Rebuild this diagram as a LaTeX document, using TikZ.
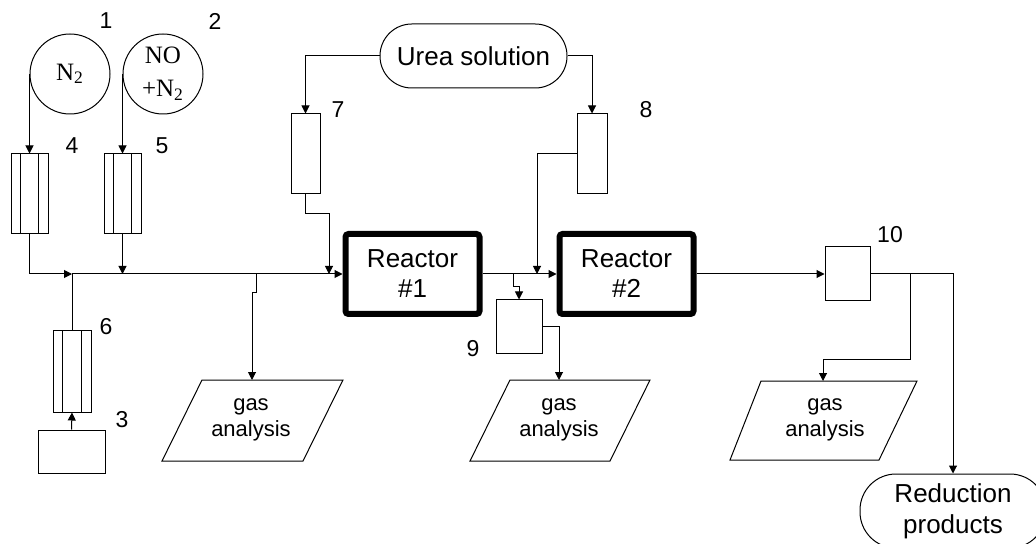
\documentclass[tikz,border=0pt]{standalone}
\usepackage{fontspec}
\setmainfont{Liberation Sans}
\newfontfamily\tnr{Liberation Serif}
\usetikzlibrary{arrows.meta,calc}
\begin{document}
\begin{tikzpicture}[x=0.5pt,y=-0.5pt, line width=0.5pt,
  arr/.style={-{Triangle[length=4pt,width=4pt]}},
  lbl/.style={font=\fontsize{11.5}{13}\selectfont, inner sep=0},
  cyl/.style={draw,circle,minimum size=40pt,inner sep=0,
    font=\tnr\fontsize{12.5}{16.5}\selectfont, align=center},
  flowm/.style={draw,minimum width=18.5pt,minimum height=40pt,inner sep=0,
    path picture={
      \draw ($(path picture bounding box.north west)!0.25!(path picture bounding box.north east)$) --
            ($(path picture bounding box.south west)!0.25!(path picture bounding box.south east)$);
      \draw ($(path picture bounding box.north west)!0.75!(path picture bounding box.north east)$) --
            ($(path picture bounding box.south west)!0.75!(path picture bounding box.south east)$);
    }},
  plainbox/.style={draw,inner sep=0},
  reactor/.style={draw,line width=3pt,rounded corners=1.5pt,minimum width=67pt,
    minimum height=40pt,align=center,font=\fontsize{13}{15}\selectfont,inner sep=0},
  term/.style={draw,align=center,inner sep=0},
  gtext/.style={align=center,font=\fontsize{11}{13}\selectfont,inner sep=0}
]
\useasboundingbox (0,0) rectangle (1036,544);
\clip (0,0) rectangle (1036,544);
\fill[white] (0,0) rectangle (1036,544);

% gas cylinders
\node[cyl] (c1) at (70,74) {N\textsubscript{2}};
\node[cyl] (c2) at (163,74) {NO\\+N\textsubscript{2}};
\node[lbl] (l1) at (106,21) {1};
\node[lbl] (l2) at (215,21) {2};

% flowmeters
\node[flowm] (f4) at (29.5,194) {};
\node[flowm] (f5) at (122.5,194) {};
\node[flowm,minimum width=19pt,minimum height=40.5pt] (f6) at (72,371.5) {};
\node[lbl] (l4) at (72,146) {4};
\node[lbl] (l5) at (162,146) {5};
\node[lbl] (l6) at (106,327) {6};
\node[plainbox,minimum width=33.5pt,minimum height=21.5pt] (b3) at (71.5,451.5) {};
\node[lbl] (l3) at (122,420) {3};

% urea
\node[term,rounded corners=15.9pt,minimum width=93.5pt,minimum height=32pt,
  font=\fontsize{13}{15}\selectfont] (u) at (473.5,56) {Urea solution};
\node[plainbox,minimum width=14.5pt,minimum height=40pt] (f7) at (305.5,154) {};
\node[plainbox,minimum width=15pt,minimum height=40pt] (f8) at (592,154) {};
\node[lbl] (l7) at (338,110) {7};
\node[lbl] (l8) at (646,110) {8};

% reactors
\node[reactor] (r1) at (412.5,274) {Reactor\\\#1};
\node[reactor] (r2) at (626.5,274) {Reactor\\\#2};

% box 9, 10
\node[plainbox,minimum width=23pt,minimum height=27pt] (b9) at (519,327) {};
\node[lbl] (l9) at (473,349) {9};
\node[plainbox,minimum width=22.5pt,minimum height=27pt] (b10) at (847.5,274) {};
\node[lbl] (l10) at (890,235) {10};

% reduction products
\node[term,rounded corners=18pt,minimum width=93pt,minimum height=37pt,
  font=\fontsize{13}{15.5}\selectfont] (rp) at (953,511) {Reduction\\products};

% gas analysis parallelograms
\draw (202,380) -- (343,380) -- (303,461) -- (162,461) -- cycle;
\node[gtext] (p1) at (251,420) {gas\\analysis};
\draw (510,380) -- (650,380) -- (610,461) -- (470,461) -- cycle;
\node[gtext] (p2) at (559,420) {gas\\analysis};
\draw (761,381) -- (917,381) -- (879,460) -- (730,460) -- cycle;
\node[gtext] (p3) at (825,420) {gas\\analysis};

% coordinates
\coordinate (m4) at (72,274);
\coordinate (g1a) at (256,274);
\coordinate (g1b) at (256,293);
\coordinate (g1c) at (252,293);
\coordinate (p1t) at (252,380);
\coordinate (k7) at (305.5,214);
\coordinate (in1) at (329,274);
\coordinate (in2) at (537,274);
\coordinate (s1) at (513,274);
\coordinate (s2) at (513,287);
\coordinate (s3) at (519,287);
\coordinate (p2t) at (559,380);
\coordinate (t1) at (910,274);
\coordinate (t2) at (823,360);
\coordinate (p3t) at (823,381);

% connectors
\draw[arr] (c1.west) -- (f4.north);
\draw[arr] (c2.west) -- (f5.north);
\draw[arr] (f4.south) |- (m4);
\draw[arr] (f5.south) -- (f5.south |- m4);
\draw (f6.north) -- (m4);
\draw[arr] (b3.north) -- (f6.south);
\draw[arr] (m4) -- (r1.west);
\draw[arr] (g1a) -- (g1b) -- (g1c) -- (p1t);
\draw[arr] (u.west) -| (f7.north);
\draw[arr] (u.east) -| (f8.north);
\draw[arr] (f7.south) -- (k7) -| (in1);
\draw[arr] (f8.west) -| (in2);
\draw[arr] (r1.east) -- (r2.west);
\draw[arr] (s1) -- (s2) -- (s3) -- (b9.north);
\draw[arr] (b9.east) -| (p2t);
\draw[arr] (r2.east) -- (b10.west);
\draw[arr] (b10.east) -| (rp.north);
\draw[arr] (t1) |- (t2) -- (p3t);
\end{tikzpicture}
\end{document}
